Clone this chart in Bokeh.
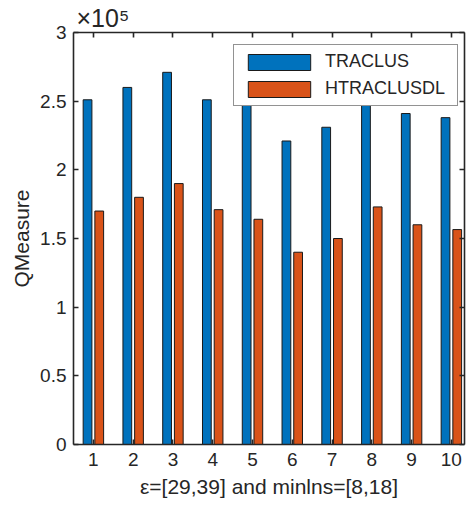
from bokeh.plotting import figure
from bokeh.models import (Range1d, LinearAxis, FixedTicker, Legend,
                          LegendItem, ColumnDataSource)
from bokeh.transform import dodge
from bokeh.embed import file_html
from bokeh.resources import INLINE

# ---- data ----
categories = [1, 2, 3, 4, 5, 6, 7, 8, 9, 10]
traclus = [251000, 260000, 271000, 251000, 248000, 221000, 231000, 247000, 241000, 238000]
htraclusdl = [170000, 180000, 190000, 171000, 164000, 140000, 150000, 173000, 160000, 156500]
series_names = ["TRACLUS", "HTRACLUSDL"]
y_ticks = [0, 50000, 100000, 150000, 200000, 250000, 300000]
y_tick_labels = ["0", "0.5", "1", "1.5", "2", "2.5", "3"]
x_label = "\u03b5=[29,39] and minlns=[8,18]"
y_label = "QMeasure"
exponent_text = "\u00d710\u2075"

FONT = "Liberation Sans"
AX = "#262626"
BLUE = "#0072BD"
ORANGE = "#D95319"

src = ColumnDataSource(dict(x=categories, a=traclus, b=htraclusdl))

p = figure(width=466, height=500, output_backend="svg", toolbar_location=None,
           x_range=Range1d(0.5, 10.33), y_range=Range1d(0, 300000),
           min_border_left=73, min_border_right=2, min_border_top=32,
           min_border_bottom=52)
p.xgrid.visible = False
p.ygrid.visible = False
p.outline_line_color = None
p.background_fill_color = "white"

# MATLAB style exponent above the y axis
p.title.text = exponent_text
p.title.align = "left"
p.title.offset = 3
p.title.standoff = 1
p.title.text_font = FONT
p.title.text_font_size = "25px"
p.title.text_font_style = "normal"
p.title.text_color = AX

w = 0.22
off = 0.147
r1 = p.vbar(x=dodge("x", -off, range=p.x_range), top="a", width=w, source=src,
            fill_color=BLUE, line_color="#1a1a1a", line_width=1)
r2 = p.vbar(x=dodge("x", off, range=p.x_range), top="b", width=w, source=src,
            fill_color=ORANGE, line_color="#1a1a1a", line_width=1)


def style(ax):
    ax.axis_line_color = AX
    ax.axis_line_width = 1.6
    ax.major_tick_line_color = AX
    ax.major_tick_line_width = 1.6
    ax.major_tick_in = 5
    ax.major_tick_out = 0
    ax.minor_tick_line_color = None
    ax.major_label_text_font = FONT
    ax.major_label_text_font_size = "19px"
    ax.major_label_text_color = AX
    ax.axis_label_text_font = FONT
    ax.axis_label_text_font_size = "21px"
    ax.axis_label_text_font_style = "normal"
    ax.axis_label_text_color = AX


xt = FixedTicker(ticks=categories)
yt = FixedTicker(ticks=y_ticks)

xa = p.xaxis[0]
xa.ticker = xt
style(xa)
xa.axis_label = x_label
xa.major_label_standoff = 8
xa.axis_label_standoff = 6

ya = p.yaxis[0]
ya.ticker = yt
ya.major_label_overrides = {t: l for t, l in zip(y_ticks, y_tick_labels)}
style(ya)
ya.axis_label = y_label
ya.major_label_standoff = 7
ya.axis_label_standoff = 4

top = LinearAxis(ticker=xt)
style(top)
top.major_label_overrides = {t: "" for t in categories}
top.major_label_standoff = 0
p.add_layout(top, "above")

right = LinearAxis(ticker=yt)
style(right)
right.major_label_overrides = {t: "" for t in y_ticks}
right.major_label_standoff = 0
p.add_layout(right, "right")

legend = Legend(items=[LegendItem(label=series_names[0], renderers=[r1]),
                       LegendItem(label=series_names[1], renderers=[r2])],
                location=(160, 338))
legend.border_line_color = AX
legend.border_line_width = 1
legend.background_fill_color = "white"
legend.background_fill_alpha = 1
legend.label_text_font = FONT
legend.label_text_font_size = "18px"
legend.label_text_color = AX
legend.glyph_width = 78
legend.glyph_height = 20
legend.label_height = 20
legend.spacing = 6
legend.padding = 6
legend.margin = 0
legend.label_standoff = 7
legend.label_width = 126
p.add_layout(legend, "center")

open("out.html", "w").write(file_html(p, INLINE))
